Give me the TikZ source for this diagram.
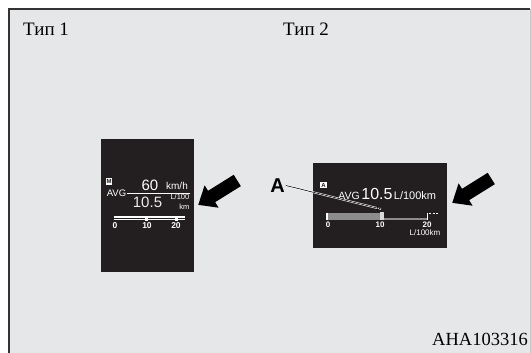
\documentclass[tikz,border=0pt]{standalone}
\usepackage{fontspec}
\setmainfont{Liberation Serif}
\setsansfont{Liberation Sans}
\usetikzlibrary{positioning, arrows.meta, shapes.arrows}
\definecolor{panelgray}{RGB}{230, 231, 233}
\definecolor{lcdblack}{RGB}{35, 31, 32}
\definecolor{bargray}{RGB}{140, 140, 140}

\begin{document}
\begin{tikzpicture}[x=1pt, y=-1pt,
    caption/.style={font=\fontsize{19}{19}\selectfont, anchor=base west, inner sep=0},
    lcd/.style={text=white, font=\sffamily, anchor=base, inner sep=0},
    screen/.style={fill=lcdblack, anchor=north west, inner sep=0},
    icon/.style={fill=white, text=lcdblack, inner sep=0, minimum size=6.5pt,
        font=\sffamily\bfseries\fontsize{6}{6}\selectfont},
    pointer/.style={single arrow, fill=black, inner xsep=0pt, inner ysep=6.5pt, anchor=tip,
        rotate=212, minimum height=46pt, single arrow head extend=6.5pt,
        single arrow tip angle=80}]
    \useasboundingbox (0,0) rectangle (531,353);
    \fill[panelgray] (9,9) rectangle (530,353);
    \draw[gray!45, line width=0.6pt] (530,9) -- (530,353);
    \draw[black!80, line width=2pt] (9,353) -- (9,9) -- (530,9);
    \node[caption] (typeone) at (23,36) {Тип 1};
    \node[caption] (typetwo) at (283,36) {Тип 2};
    \node[caption, anchor=base east, font=\fontsize{18.5}{18.5}\selectfont] (code) at (528,345) {AHA103316};

    % type 1 display
    \node[screen, minimum width=93pt, minimum height=133pt] (screenone) at (101,139) {};
    \node[icon] (modeone) at (109,181.5) {M};
    \node[lcd, font=\sffamily\fontsize{9.5}{9.5}\selectfont] (avgone) at (116.5,196.5) {AVG};
    \draw[white, line width=0.8pt] (avgone.east) ++(1,0) -- ++(63,0);
    \node[lcd, font=\sffamily\fontsize{15}{15}\selectfont] (speed) at (150,190.5) {60};
    \node[lcd, font=\sffamily\fontsize{10}{10}\selectfont] (speedunit) at (177,189.5) {km/h};
    \node[lcd, text=gray!15, font=\sffamily\fontsize{15}{15}\selectfont] (fuelone) at (147.5,207.5) {10.5};
    \node[lcd, anchor=north east, align=right, font=\sffamily\fontsize{7.5}{9.5}\selectfont] (fuelunit) at (189.5,194) {L/100\\km};
    \draw[white, line width=2pt] (114,216.5) -- (185,216.5);
    \draw[white, line width=0.8pt] (114,219.5) -- (185,219.5);
    \fill[white] (145,218) rectangle (147.5,220.5);
    \fill[white] (175,218) rectangle (177.5,220.5);
    \node[lcd, font=\sffamily\bfseries\fontsize{8.5}{8.5}\selectfont] (zeroone) at (115,228.5) {0};
    \node[lcd, font=\sffamily\bfseries\fontsize{8.5}{8.5}\selectfont] (tenone) at (147,228.5) {10};
    \node[lcd, font=\sffamily\bfseries\fontsize{8.5}{8.5}\selectfont] (twentyone) at (176,228.5) {20};
    \node[pointer] (arrowone) at (198,205) {};

    % type 2 display
    \node[screen, minimum width=134pt, minimum height=85pt] (screentwo) at (313,163) {};
    \node[icon] (modetwo) at (323.5,185) {A};
    \node[lcd, font=\sffamily\fontsize{10.5}{10.5}\selectfont] (avgtwo) at (349,200) {AVG};
    \node[lcd, font=\sffamily\fontsize{16}{16}\selectfont] (fueltwo) at (377,200) {10.5};
    \node[lcd, font=\sffamily\fontsize{11}{11}\selectfont] (fuelunittwo) at (415,200) {L/100km};
    \fill[bargray] (327,213) rectangle (380,219.5);
    \fill[gray!30] (380,212) rectangle (383.5,220);
    \draw[white, line width=1.2pt] (327,212.5) -- (327,220);
    \draw[bargray, line width=1.5pt] (383.5,219) -- (427,219);
    \draw[white, line width=1pt] (427,212.5) -- (427,220);
    \draw[white, line width=0.8pt, dash pattern=on 2pt off 1.5pt] (429,213) -- (438,213);
    \node[lcd, font=\sffamily\bfseries\fontsize{8}{8}\selectfont] (zerotwo) at (328,227.5) {0};
    \node[lcd, font=\sffamily\bfseries\fontsize{8}{8}\selectfont] (tentwo) at (380,227.5) {10};
    \node[lcd, font=\sffamily\bfseries\fontsize{8}{8}\selectfont] (twentytwo) at (427,227.5) {20};
    \node[lcd, font=\sffamily\fontsize{8}{8}\selectfont] (scaleunit) at (425,235.5) {L/100km};
    \node[pointer] (arrowtwo) at (452,203) {};

    % leader A
    \node[font=\sffamily\bfseries\fontsize{20}{20}\selectfont, inner sep=1pt] (leadera) at (277.5,185.5) {A};
    \coordinate (markertip) at (381,209);
    \draw[white, line width=1.8pt] (leadera.east) -- (markertip);
    \draw[black, line width=0.6pt, -{Triangle[length=4pt, width=4pt, fill=white]}] (leadera.east) -- (markertip);
\end{tikzpicture}
\end{document}
